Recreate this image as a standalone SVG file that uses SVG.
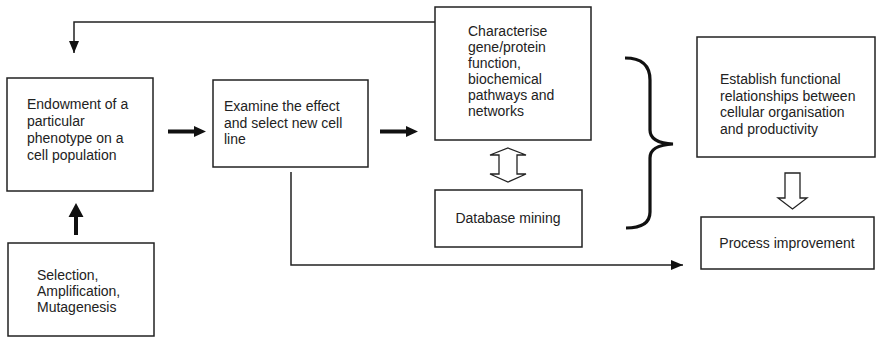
<svg xmlns="http://www.w3.org/2000/svg" width="880" height="337" viewBox="0 0 880 337">
<defs>
<style>
.box{fill:#fff;stroke:#222;stroke-width:1.5}
.t{font-family:"Liberation Sans",Arial,sans-serif;font-size:14px;fill:#222}
.ln{fill:none;stroke:#222;stroke-width:1.5}
.thick{fill:#111;stroke:none}
.hollow{fill:#fff;stroke:#222;stroke-width:1.3}
.brace{fill:none;stroke:#111;stroke-width:3.2}
</style>
<marker id="ah" viewBox="0 0 12 10" refX="12" refY="5" markerWidth="12" markerHeight="10" markerUnits="userSpaceOnUse" orient="auto">
<path d="M0,0 L12,5 L0,10 Z" fill="#111"/>
</marker>
</defs>
<rect width="880" height="337" fill="#fff"/>
<g id="connectors">
<path class="ln" d="M435,22 H74 V53" marker-end="url(#ah)"/>
<path class="ln" d="M291,172 V265 H683" marker-end="url(#ah)"/>
<polygon class="thick" points="168,129.5 194,129.5 194,126 206,131.5 194,137 194,133.5 168,133.5"/>
<polygon class="thick" points="380,129.5 406,129.5 406,126 418,131.5 406,137 406,133.5 380,133.5"/>
<polygon class="thick" points="74,235 74,217 68.5,217 76,203 83.5,217 78,217 78,235"/>
<polygon class="hollow" points="508,148 526,155 517,155 517,174 526,174 508,182 490,174 499,174 499,155 490,155"/>
<polygon class="hollow" points="785,173 800,173 800,198 807,198 792.5,209 778,198 785,198"/>
<path class="brace" d="M625,58 Q650,58 650,80 V130 Q650,143 673,144 Q650,145 650,158 V212 Q650,228 626,228"/>
</g>
<g id="endowment">
<rect class="box" x="7" y="78" width="146" height="113"/>
<text class="t"><tspan x="27" y="109">Endowment of a</tspan><tspan x="27" y="126">particular</tspan><tspan x="27" y="143">phenotype on a</tspan><tspan x="27" y="160">cell population</tspan></text>
</g>
<g id="examine">
<rect class="box" x="213" y="80" width="155" height="87"/>
<text class="t"><tspan x="224" y="111">Examine the effect</tspan><tspan x="224" y="127.5">and select new cell</tspan><tspan x="224" y="144">line</tspan></text>
</g>
<g id="characterise">
<rect class="box" x="435" y="7" width="156" height="133"/>
<text class="t"><tspan x="468" y="36">Characterise</tspan><tspan x="468" y="52">gene/protein</tspan><tspan x="468" y="68">function,</tspan><tspan x="468" y="84">biochemical</tspan><tspan x="468" y="100">pathways and</tspan><tspan x="468" y="116">networks</tspan></text>
</g>
<g id="database">
<rect class="box" x="435" y="190" width="147" height="57"/>
<text class="t" x="508" y="223" text-anchor="middle">Database mining</text>
</g>
<g id="establish">
<rect class="box" x="697" y="37" width="178" height="120"/>
<text class="t"><tspan x="720" y="84">Establish functional</tspan><tspan x="720" y="100.5">relationships between</tspan><tspan x="720" y="117">cellular organisation</tspan><tspan x="720" y="133.5">and productivity</tspan></text>
</g>
<g id="process">
<rect class="box" x="701" y="217" width="173" height="52"/>
<text class="t" x="787" y="248" text-anchor="middle">Process improvement</text>
</g>
<g id="selection">
<rect class="box" x="8" y="243" width="146" height="93"/>
<text class="t"><tspan x="37" y="280">Selection,</tspan><tspan x="37" y="296">Amplification,</tspan><tspan x="37" y="312">Mutagenesis</tspan></text>
</g>
</svg>
